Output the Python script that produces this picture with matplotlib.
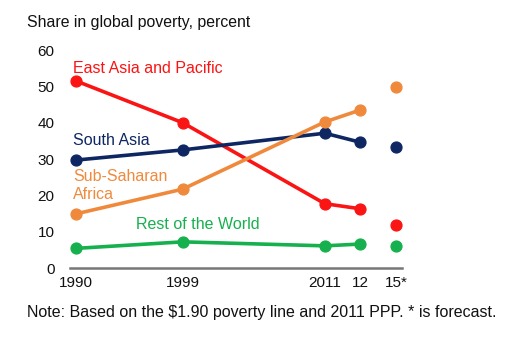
import matplotlib.pyplot as plt

plt.rcParams['font.family'] = ['Liberation Sans', 'DejaVu Sans']

# x positions on the axis (not linear in years) and tick labels
xpos = [0, 9, 21, 24, 27]
xlabels = ['1990', '1999', '2011', '12', '15*']

east_asia = [51.5, 40.0, 17.7, 16.3, 11.9]
south_asia = [29.7, 32.5, 37.1, 34.6, 33.4]
ssa = [14.9, 21.7, 40.2, 43.5, 49.9]
rest = [5.4, 7.2, 6.1, 6.6, 6.1]

series = [
    (east_asia, '#fb1414'),
    (south_asia, '#0e2763'),
    (ssa, '#ef8a3d'),
    (rest, '#17b04e'),
]

fig = plt.figure(figsize=(5.17, 3.39), dpi=100)
ax = fig.add_axes([0.1354, 0.2094, 0.642, 0.6431])

for vals, col in series:
    # solid line up to 2012, forecast point on its own
    ax.plot(xpos[:4], vals[:4], color=col, lw=2.6, marker='o', ms=7.8,
            clip_on=False, solid_capstyle='round')
    ax.plot(xpos[4], vals[4], color=col, marker='o', ms=7.8, clip_on=False)

ax.set_xlim(-0.5, 27.5)
ax.set_ylim(0, 60)
ax.set_yticks([0, 10, 20, 30, 40, 50, 60])
ax.set_xticks(xpos)
ax.set_xticklabels(xlabels)
ax.tick_params(axis='both', length=0, labelsize=11, colors='#111111')
ax.tick_params(axis='y', pad=11)
ax.tick_params(axis='x', pad=6)

for s in ['top', 'right', 'left']:
    ax.spines[s].set_visible(False)
ax.spines['bottom'].set_color('#777777')
ax.spines['bottom'].set_linewidth(1.8)

ax.text(-0.25, 55, 'East Asia and Pacific', color='#fb1414', fontsize=11.5, va='center')
ax.text(-0.25, 35.2, 'South Asia', color='#0e2763', fontsize=11.5, va='center')
ax.text(-0.25, 22.7, 'Sub-Saharan\nAfrica', color='#ef8a3d', fontsize=11.5,
        va='center', linespacing=1.3)
ax.text(5.07, 12.1, 'Rest of the World', color='#17b04e', fontsize=11.5, va='center')

fig.text(27/517, 1 - 22/339, 'Share in global poverty, percent', fontsize=11.4,
         color='#111111', va='center')
fig.text(27/517, 1 - 313/339,
         'Note: Based on the $1.90 poverty line and 2011 PPP. * is forecast.',
         fontsize=11.5, color='#111111', va='center')

fig.savefig('out.png', dpi=100)
